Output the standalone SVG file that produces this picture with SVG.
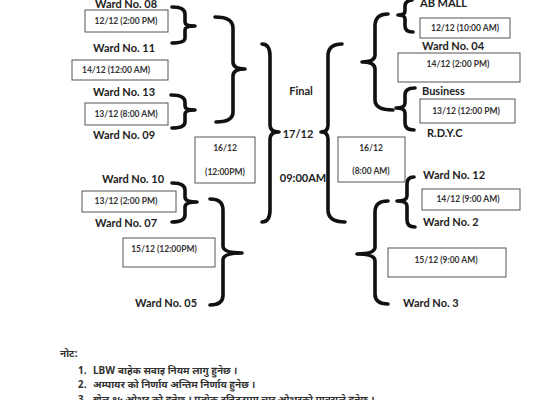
<svg xmlns="http://www.w3.org/2000/svg" width="560" height="400" viewBox="0 0 560 400">
<style>
.bg{fill:#ffffff}
.br{fill:none;stroke:#111;stroke-width:3.6;stroke-linecap:round;stroke-linejoin:round}
.box{fill:#fff;stroke:#555;stroke-width:1}
.w{font-family:Lato,"Open Sans","Liberation Sans",sans-serif;font-weight:bold;font-size:11px;fill:#222}
.d{font-family:Lato,"Open Sans","Liberation Sans",sans-serif;font-weight:bold;font-size:8.5px;fill:#333;text-anchor:middle}
.c{font-family:Lato,"Open Sans","Liberation Sans",sans-serif;font-weight:bold;font-size:11px;fill:#222;text-anchor:middle}
.n{font-family:"Noto Sans Devanagari","Lohit Devanagari","Noto Sans","Mukta",sans-serif;font-weight:bold;font-size:10px;fill:#333}
</style>
<rect class="bg" x="0" y="0" width="560" height="400"/>
<g id="connectors">
<path class="br" d="M172,7 Q185,7 185,14 L185,22 Q185,26 195,26 Q185,26 185,30 L185,38 Q185,43 172,43"/>
<path class="br" d="M171,95 Q185,95 185,102 L185,106 Q185,110 195,110 Q185,110 185,114 L185,122 Q185,128 172,128"/>
<path class="br" d="M215,17 Q233,17 233,28 L233,62 Q233,69 245,69 Q233,69 233,76 L233,112 Q233,122 216,122"/>
<path class="br" d="M262,44 Q270,44 270,56 L270,125 Q270,132 279,132 Q270,132 270,139 L270,210 Q270,222 262,222"/>
<path class="br" d="M342,44 Q328,44 328,56 L328,125 Q328,132 321,132 Q328,132 328,139 L328,210 Q328,222 345,222"/>
<path class="br" d="M172,183 Q185,183 185,190 L185,197 Q185,202 197,202 Q185,202 185,207 L185,215 Q185,222 172,222"/>
<path class="br" d="M210,199 Q223,199 223,210 L223,246 Q223,253 242,253 Q223,253 223,260 L223,295 Q223,305 210,305"/>
<path class="br" d="M412,0 Q405,1 405,6 L405,11 Q405,15 398,15 Q405,15 405,19 L405,26 Q405,32 413,32"/>
<path class="br" d="M388,14 Q375,14 375,26 L375,55 Q375,62 362,62 Q375,62 375,69 L375,100 Q375,110 393,110"/>
<path class="br" d="M415,88 Q405,88 405,95 L405,103 Q405,108 396,108 Q405,108 405,113 L405,123 Q405,130 414,130"/>
<path class="br" d="M414,177 Q407,177 407,184 L407,196 Q407,201 397,201 Q407,201 407,206 L407,220 Q407,227 415,227"/>
<path class="br" d="M388,201 Q375,201 375,212 L375,247 Q375,254 357,254 Q375,254 375,261 L375,294 Q375,304 388,304"/>
</g>
<g id="ward08"><text class="w" x="95" y="8">Ward No. 08</text></g>
<g id="m1"><rect class="box" x="85" y="10" width="83" height="22"/><text class="d" x="126" y="24">12/12 (2:00 PM)</text></g>
<g id="ward11"><text class="w" x="93" y="52">Ward No. 11</text></g>
<g id="m2"><rect class="box" x="72" y="60" width="96" height="20"/><text class="d" x="116" y="73">14/12 (12:00 AM)</text></g>
<g id="ward13"><text class="w" x="93" y="96">Ward No. 13</text></g>
<g id="m3"><rect class="box" x="85" y="103" width="83" height="22"/><text class="d" x="126" y="117">13/12 (8:00 AM)</text></g>
<g id="ward09"><text class="w" x="93" y="139">Ward No. 09</text></g>
<g id="m4"><rect class="box" x="195" y="137" width="60" height="46"/><text class="d" x="225" y="151">16/12</text><text class="d" x="225" y="175">(12:00PM)</text></g>
<g id="ward10"><text class="w" x="102" y="183">Ward No. 10</text></g>
<g id="m5"><rect class="box" x="82" y="191" width="94" height="21"/><text class="d" x="126" y="204">13/12 (2:00 PM)</text></g>
<g id="ward07"><text class="w" x="95" y="227">Ward No. 07</text></g>
<g id="m6"><rect class="box" x="123" y="238" width="92" height="29"/><text class="d" x="164" y="252">15/12 (12:00PM)</text></g>
<g id="ward05"><text class="w" x="135" y="307">Ward No. 05</text></g>
<g id="final"><text class="c" x="301" y="95">Final</text><text class="c" x="298" y="138">17/12</text><text class="c" x="303" y="182">09:00AM</text></g>
<g id="abmall"><text class="w" x="420" y="7">AB MALL</text></g>
<g id="m7"><rect class="box" x="420" y="18" width="90" height="20"/><text class="d" x="465" y="31">12/12 (10:00 AM)</text></g>
<g id="ward04"><text class="w" x="422" y="50">Ward No. 04</text></g>
<g id="m8"><rect class="box" x="398" y="53" width="122" height="29"/><text class="d" x="458" y="67">14/12 (2:00 PM)</text></g>
<g id="business"><text class="w" x="422" y="95">Business</text></g>
<g id="m9"><rect class="box" x="420" y="99" width="95" height="24"/><text class="d" x="466" y="114">13/12 (12:00 PM)</text></g>
<g id="rdyc"><text class="w" x="427" y="137">R.D.Y.C</text></g>
<g id="m10"><rect class="box" x="338" y="137" width="67" height="45"/><text class="d" x="371" y="151">16/12</text><text class="d" x="371" y="174">(8:00 AM)</text></g>
<g id="ward12"><text class="w" x="423" y="179">Ward No. 12</text></g>
<g id="m11"><rect class="box" x="422" y="189" width="98" height="21"/><text class="d" x="468" y="202">14/12 (9:00 AM)</text></g>
<g id="ward2"><text class="w" x="423" y="226">Ward No. 2</text></g>
<g id="m12"><rect class="box" x="388" y="248" width="118" height="29"/><text class="d" x="446" y="263">15/12 (9:00 AM)</text></g>
<g id="ward3"><text class="w" x="403" y="307">Ward No. 3</text></g>
<g id="notes">
<text class="n" x="60" y="357">नोट:</text>
<text class="n" x="78" y="374">1.</text><text class="n" x="93" y="374">LBW बाहेक सवाइ नियम लागु हुनेछ ।</text>
<text class="n" x="78" y="388">2.</text><text class="n" x="93" y="388">अम्पायर को निर्णाय अन्तिम निर्णाय हुनेछ ।</text>
<text class="n" x="78" y="403">3.</text><text class="n" x="93" y="403">खेल १५ ओभर को हुनेछ । प्रत्येक इनिङ्समा चार ओभरको पावरप्ले हुनेछ ।</text>
</g>
</svg>
